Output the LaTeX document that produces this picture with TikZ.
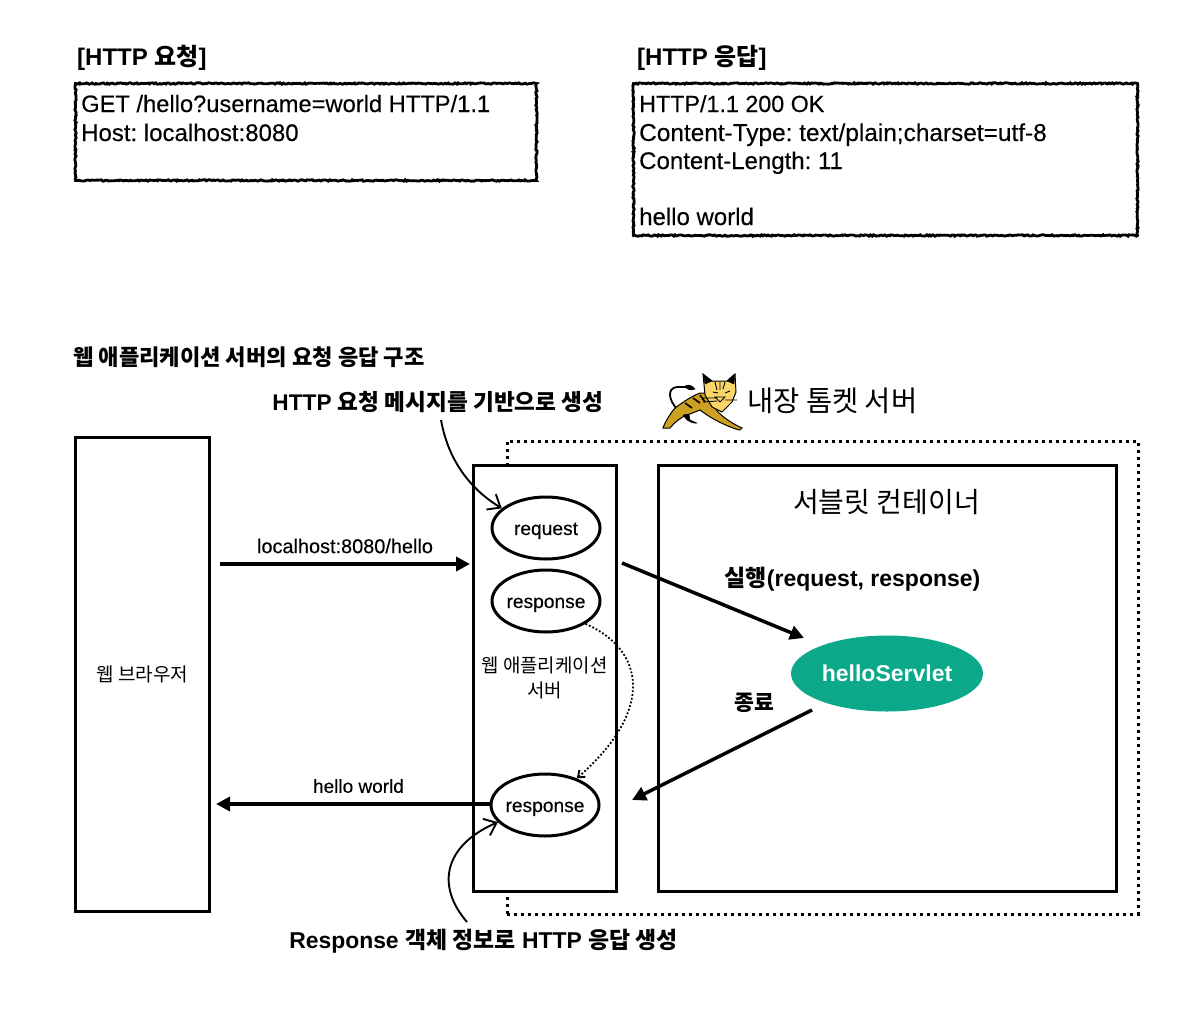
\documentclass[tikz,border=0pt]{standalone}
\usepackage{fontspec}
\setmainfont{Liberation Sans}[UprightFeatures={FakeBold=0.25}]
\newfontfamily\kr{Noto Sans CJK KR}
\usetikzlibrary{arrows.meta,positioning,shapes.geometric,decorations.pathmorphing}
\definecolor{servletgreen}{RGB}{11,168,137}
\definecolor{catbody}{RGB}{204,160,32}
\definecolor{cathead}{RGB}{250,214,104}
\newcommand{\fs}[1]{\fontsize{#1}{#1}\selectfont\frenchspacing}

\begin{document}
\begin{tikzpicture}
[x=1pt,y=-1pt,inner sep=0pt,
box/.style={draw,line width=3,fill=white},
rough/.style={draw,line width=2.8,decorate,decoration={random steps,segment length=1.6,amplitude=.7}},
oval/.style={ellipse,draw,line width=3,fill=white,minimum width=108,minimum height=62,inner xsep=-3pt,text height=17,text depth=3,font=\fs{19.2}},
code/.style={anchor=base west,font=\fs{24}},
head/.style={anchor=west,font=\bfseries\fs{24}},
note/.style={font=\bfseries\fs{23}},
small/.style={font=\fs{19}},
thick arrow/.style={line width=3.5,-{Triangle[length=14,width=14]}},
curl/.style={line width=1.9,-{Straight Barb[length=11,width=18]}},
dots/.style={line width=1.8,dotted,-{Straight Barb[length=6,width=9]}}]
\useasboundingbox (0,0) rectangle (1204,1009);

% http messages
\node (reqhead) at (77,58) [head] {[HTTP {\kr 요청}]};
\node (reshead) at (637,58) [head] {[HTTP {\kr 응답}]};
\node (reqbox) at (306,132) [rough,minimum width=461,minimum height=97] {};
\node (resbox) at (885.5,159.5) [rough,minimum width=504,minimum height=152] {};
\node (req1) at (81,112) [code,font=\fs{23.7}] {GET /hello?username=world HTTP/1.1};
\node (req2) at (81,141) [code] {Host: localhost:8080};
\node (res1) at (639,112) [code,font=\fs{23.3}] {HTTP/1.1 200 OK};
\node (res2) at (639,141) [code,font=\fs{24.4}] {Content-Type: text/plain;charset=utf-8};
\node (res3) at (639,169) [code] {Content-Length: 11};
\node (res4) at (639,225) [code] {hello world};

% titles
\node (title) at (73,357) [anchor=west,font=\kr\bfseries\fs{22.15}] {웹 애플리케이션 서버의 요청 응답 구조};
\node (reqnote) at (438,402) [note,font=\bfseries\fs{22.65}] {HTTP {\kr 요청 메시지를 기반으로 생성}};
\node (resnote) at (483.5,941.5) [note,font=\bfseries\fs{22.9}] {Response {\kr 객체 정보로} HTTP {\kr 응답 생성}};
\node (tomcat) at (747,401) [anchor=west,font=\kr\fs{28.5}] {내장 톰켓 서버};

% tomcat logo
\draw[line width=1.8,line cap=round] (678,410) .. controls (668,400) and (667,388) .. (677,387) -- (686,387);
\draw[fill=black] (685,386) .. controls (688,384) and (692,385) .. (695,389) .. controls (691,391) and (687,390) .. (685,386);
\draw[fill=catbody,line width=1] (663,428) .. controls (665,422) and (670,414) .. (675,408) .. controls (683,402) and (692,396) .. (700,393) -- (705,393) -- (718,412) .. controls (724,418) and (733,424) .. (742,428) -- (740,430) .. controls (733,429) and (716,421) .. (707,415) -- (700,410) .. controls (695,412) and (690,414) .. (687,415) .. controls (681,417) and (675,422) .. (670,428) -- cycle;
\draw[fill=black] (683,415) -- (687,420) .. controls (690,422) and (694,424) .. (697,423) -- (690,420) -- (689,414) -- cycle;
\draw[line width=1.6] (693,398) -- (700,403) (700,395) -- (705,402) (685,403) -- (692,408);
\draw[fill=cathead,line width=1] (703,374) -- (712,381) -- (727,381) -- (735,374) -- (736,392) -- (732,402) -- (722,412) -- (712,407) -- (705,395) -- cycle;
\draw[fill=black] (703,374) -- (712,381) -- (705,384) -- cycle (735,374) -- (727,381) -- (734,384) -- cycle;
\draw[line width=.9] (715,382) -- (717,390) (720,382) -- (720,390) (725,382) -- (723,389) (713,392) -- (718,393) (725,393) -- (730,391) (715,397) -- (725,397) -- (720,402) -- cycle (703,398) -- (717,398) (703,402) -- (717,401) (725,400) -- (737,400);

% servers
\node (engine) at (822.5,677.5) [draw,line width=3,dash pattern=on 3pt off 4pt,minimum width=631,minimum height=473] {};
\node (browser) at (142.5,674) [box,minimum width=134.5,minimum height=474,font=\kr\fs{19}] {웹 브라우저};
\node (appbox) at (545,678) [box,minimum width=143.5,minimum height=426] {};
\node (container) at (887.5,678) [box,minimum width=458.5,minimum height=426] {};
\node (containertitle) at (886.5,502) [font=\kr\fs{28}] {서블릿 컨테이너};
\node (apptitle) at (544.5,678) [align=center,font=\kr\fs{18.9}] {웹 애플리케이션\\[6pt]서버};

\node (request) at (546,528) [oval] {request};
\node (response) at (546,601) [oval] {response};
\node (responseout) at (545,805) [oval] {response};
\node (servlet) at (887,673.5) [ellipse,fill=servletgreen,text=white,minimum width=192,minimum height=76,font=\bfseries\fs{23}] {helloServlet};

\node (run) at (852.5,579) [note] {{\kr 실행}(request, response)};
\node (stop) at (754,703) [font=\kr\bfseries\fs{21.6}] {종료};
\node (urllabel) at (345,546) [small,font=\fs{19.9}] {localhost:8080/hello};
\node (worldlabel) at (358.5,786) [small] {hello world};

% connectors
\coordinate (urlstart) at (220,564);
\coordinate (urlend) at (470,564);
\coordinate (runstart) at (622,563);
\coordinate (runend) at (804,638);
\coordinate (stopstart) at (812,710);
\coordinate (stopend) at (632,800);
\coordinate (worldend) at (216,804);
\coordinate (resfoot) at (467,922);
\coordinate (reqfoot) at (441,420);

\draw[thick arrow] (urlstart) -- (urlend);
\draw[thick arrow] (runstart) -- (runend);
\draw[thick arrow] (stopstart) -- (stopend);
\draw[thick arrow] (responseout.west |- worldend) -- (worldend);
\draw[dots] (response.-30) .. controls (645,650) and (655,710) .. (responseout.40);
\draw[curl] (reqfoot) .. controls (450,470) and (480,495) .. (request.156);
\draw[curl] (resfoot) .. controls (435,885) and (445,845) .. (responseout.200);

\end{tikzpicture}
\end{document}
